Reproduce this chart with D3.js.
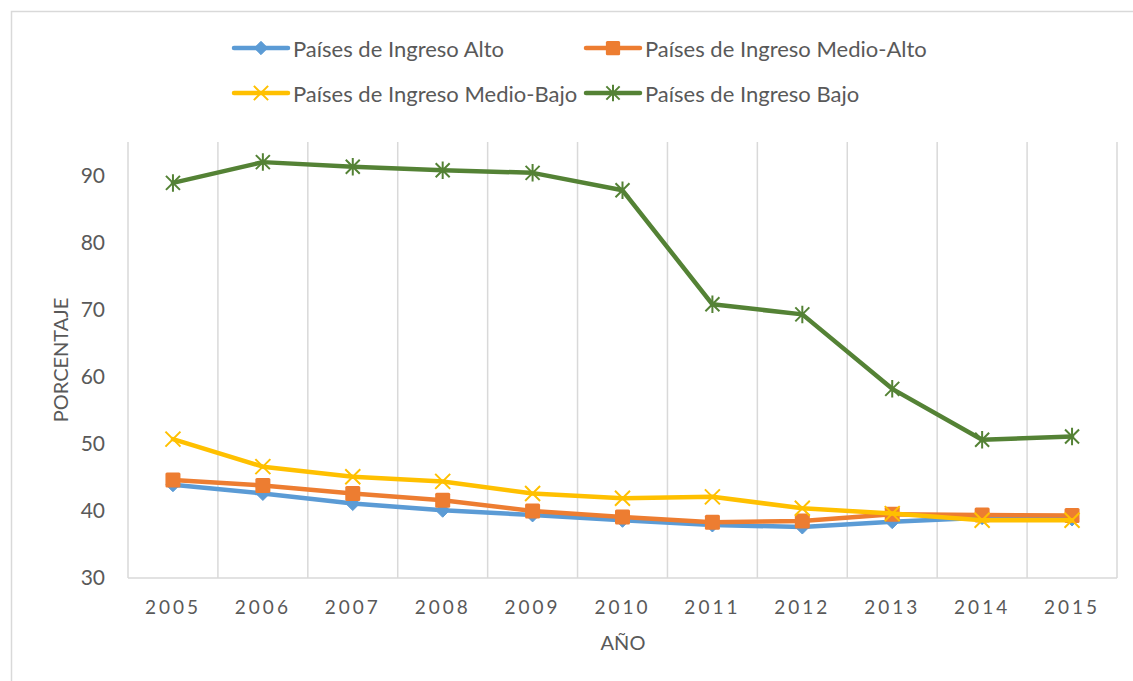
<!DOCTYPE html>
<html>
<head>
<meta charset="utf-8">
<script src="https://cdn.jsdelivr.net/npm/d3@7"></script>
<style>
  html, body { margin: 0; padding: 0; background: #fff; }
  svg { display: block; }
  text { font-family: Lato, "Open Sans", sans-serif; fill: #595959; }
</style>
</head>
<body>
<svg id="chart" width="1133" height="681"></svg>
<script>
const years = ["2005","2006","2007","2008","2009","2010","2011","2012","2013","2014","2015"];
const seriesNames = ["Países de Ingreso Alto","Países de Ingreso Medio-Alto","Países de Ingreso Medio-Bajo","Países de Ingreso Bajo"];
const alto      = [43.9, 42.6, 41.1, 40.1, 39.4, 38.6, 37.9, 37.6, 38.4, 39.0, 38.8];
const medioAlto = [44.6, 43.8, 42.6, 41.6, 40.0, 39.1, 38.3, 38.5, 39.5, 39.4, 39.3];
const medioBajo = [50.7, 46.6, 45.1, 44.4, 42.6, 41.9, 42.1, 40.4, 39.6, 38.6, 38.6];
const bajo      = [88.9, 92.0, 91.3, 90.8, 90.4, 87.8, 70.8, 69.3, 58.2, 50.6, 51.1];
const yTicks = [30, 40, 50, 60, 70, 80, 90];
const yTitle = "PORCENTAJE";
const xTitle = "AÑO";

const colors = ["#5B9BD5", "#ED7D31", "#FFC000", "#548235"];
const markers = ["diamond", "square", "x", "star"];
const allSeries = [alto, medioAlto, medioBajo, bajo];

const svg = d3.select("#chart");

// chart border
svg.append("rect").attr("x", 11.5).attr("y", 11.5).attr("width", 1140).attr("height", 700)
  .attr("fill", "none").attr("stroke", "#d9d9d9").attr("stroke-width", 1.5);

const plot = {left: 128, right: 1117, top: 142, bottom: 578};
const x = d3.scaleBand().domain(years).range([plot.left, plot.right]);
const y = d3.scaleLinear().domain([30, 95]).range([plot.bottom, plot.top]);
const cx = d => x(d) + x.bandwidth() / 2;

// vertical gridlines at category boundaries
const bounds = years.map(d => x(d)).concat([plot.right]);
svg.append("g").selectAll("line").data(bounds).join("line")
  .attr("x1", d => d).attr("x2", d => d)
  .attr("y1", plot.top).attr("y2", plot.bottom)
  .attr("stroke", "#d9d9d9").attr("stroke-width", 1.5);

// bottom axis line
svg.append("line").attr("x1", plot.left).attr("x2", plot.right)
  .attr("y1", plot.bottom).attr("y2", plot.bottom)
  .attr("stroke", "#d9d9d9").attr("stroke-width", 1.5);

// y axis
const yAxis = svg.append("g").attr("transform", `translate(${plot.left},0)`)
  .call(d3.axisLeft(y).tickValues(yTicks).tickSize(0).tickPadding(23));
yAxis.select(".domain").remove();
yAxis.selectAll("text").style("font-family", "Lato, sans-serif").style("font-size", "21px").attr("fill", "#595959");

// x axis
const xAxis = svg.append("g").attr("transform", `translate(0,${plot.bottom})`)
  .call(d3.axisBottom(x).tickSize(0).tickPadding(0));
xAxis.select(".domain").remove();
xAxis.selectAll("text").style("font-family", "Lato, sans-serif").style("font-size", "19px")
  .style("letter-spacing", "3px").attr("fill", "#595959")
  .attr("dy", null).attr("y", 28).attr("dominant-baseline", "central");

// axis titles
svg.append("text").attr("transform", "translate(60,360) rotate(-90)")
  .attr("text-anchor", "middle").attr("dominant-baseline", "central")
  .style("font-size", "20px").text(yTitle);
svg.append("text").attr("x", 623).attr("y", 642)
  .attr("text-anchor", "middle").attr("dominant-baseline", "central")
  .style("font-size", "20px").text(xTitle);

function drawMarker(g, type, color, px, py, scale) {
  const s = scale || 1;
  if (type === "diamond") {
    const r = 7 * s;
    g.append("path").attr("d", `M${px},${py - r}L${px + r},${py}L${px},${py + r}L${px - r},${py}Z`)
      .attr("fill", color).attr("stroke", color).attr("stroke-width", 1);
  } else if (type === "square") {
    const r = 7.5 * s;
    g.append("rect").attr("x", px - r).attr("y", py - r).attr("width", 2 * r).attr("height", 2 * r)
      .attr("rx", 1.5).attr("fill", color);
  } else if (type === "x") {
    const r = 7.5 * s;
    g.append("path").attr("d", `M${px - r},${py - r}L${px + r},${py + r}M${px - r},${py + r}L${px + r},${py - r}`)
      .attr("stroke", color).attr("stroke-width", 2).attr("fill", "none");
  } else if (type === "star") {
    const r = 7 * s;
    g.append("path").attr("d", `M${px - r},${py - r}L${px + r},${py + r}M${px - r},${py + r}L${px + r},${py - r}M${px},${py - r * 1.25}L${px},${py + r * 1.25}`)
      .attr("stroke", color).attr("stroke-width", 2).attr("fill", "none");
  }
}

const line = d3.line().x((d, i) => cx(years[i])).y(d => y(d));

allSeries.forEach((vals, si) => {
  const g = svg.append("g");
  g.append("path").attr("d", line(vals)).attr("fill", "none")
    .attr("stroke", colors[si]).attr("stroke-width", 4.5)
    .attr("stroke-linejoin", "round").attr("stroke-linecap", "round");
  vals.forEach((v, i) => drawMarker(g, markers[si], colors[si], cx(years[i]), y(v)));
});

// legend
const legendPos = [
  {x: 234, y: 48}, {x: 586, y: 48},
  {x: 234, y: 93}, {x: 586, y: 93}
];
seriesNames.forEach((name, si) => {
  const p = legendPos[si];
  const g = svg.append("g");
  g.append("line").attr("x1", p.x).attr("x2", p.x + 54).attr("y1", p.y).attr("y2", p.y)
    .attr("stroke", colors[si]).attr("stroke-width", 4.5).attr("stroke-linecap", "round");
  drawMarker(g, markers[si], colors[si], p.x + 27, p.y, 0.95);
  g.append("text").attr("x", p.x + 59).attr("y", p.y).attr("dominant-baseline", "central")
    .style("font-size", "22px").text(name);
});
</script>
</body>
</html>
